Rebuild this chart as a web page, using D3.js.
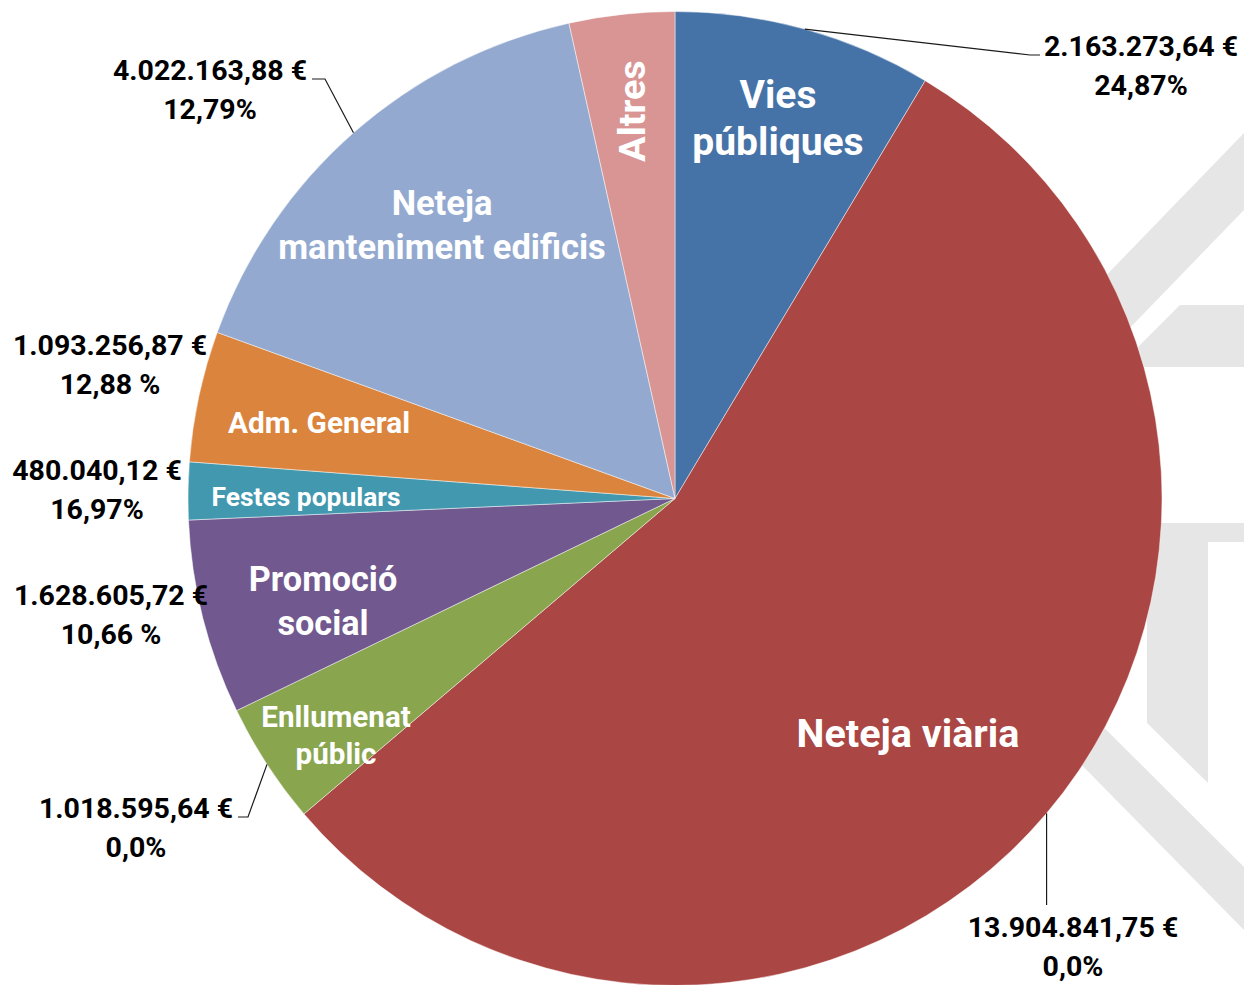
<!DOCTYPE html>
<html>
<head>
<meta charset="utf-8">
<script src="https://cdn.jsdelivr.net/npm/d3@7/dist/d3.min.js"></script>
<style>
  html, body { margin: 0; padding: 0; background: #fff; }
  svg { display: block; }
  text { font-family: Roboto, "Open Sans", sans-serif; font-weight: bold; }
</style>
</head>
<body>
<svg id="chart" width="1244" height="985"></svg>
<script>
// ---- data ----
const categories = ["Vies públiques", "Neteja viària", "Enllumenat públic", "Promoció social",
                    "Festes populars", "Adm. General", "Neteja manteniment edificis", "Altres"];
const values = [2163273.64, 13904841.75, 1018595.64, 1628605.72, 480040.12, 1093256.87, 4022163.88, 880000];
const percentLabels = ["24,87%", "0,0%", "0,0%", "10,66 %", "16,97%", "12,88 %", "12,79%", null];
const sliceLabelLines = [["Vies", "públiques"], ["Neteja viària"], ["Enllumenat", "públic"], ["Promoció", "social"],
                         ["Festes populars"], ["Adm. General"], ["Neteja", "manteniment edificis"], ["Altres"]];
const colors = ["#4572A7", "#AA4643", "#89A54E", "#71588F", "#4198AF", "#DB843D", "#93A9CF", "#D89594"];

// ---- layout (not data) ----
const W = 1244, H = 985, cx = 675, cy = 498.5, R = 487;
const sliceLabelLayout = [
  {x: 778, y: 108, size: 39, lh: 47},
  {x: 908, y: 747, size: 39.5, lh: 46},
  {x: 336, y: 727, size: 29.6, lh: 37},
  {x: 323, y: 591, size: 34.2, lh: 44},
  {x: 306, y: 506, size: 26.4, lh: 30},
  {x: 319, y: 433, size: 29.8, lh: 36},
  {x: 442, y: 215, size: 34.5, lh: 44},
  {x: 645, y: 111, size: 37.8, lh: 40, rotate: -90}
];
const dataLabelLayout = [
  {x: 1141, y: 56, leader: [[1030, 55], [1040, 55]]},
  {x: 1073, y: 937, leader: [[null, 905]]},
  {x: 136, y: 818, leader: [[248, 817], [238, 817]]},
  {x: 111, y: 605, leader: null},
  {x: 97, y: 480, leader: null},
  {x: 110, y: 355, leader: null},
  {x: 210, y: 80, leader: [[325, 79], [312, 79]]},
  null
];
const dataFontSize = 28.5, dataLineH = 38.5;

const locale = d3.formatLocale({decimal: ",", thousands: ".", grouping: [3], currency: ["", " €"]});
const fmt = locale.format("$,.2f");

const svg = d3.select("#chart");

// ---- watermark (background logo, light grey) ----
const wm = svg.append("g").attr("fill", "#e6e6e6");
const wmShapes = [
  [[1244, 133], [1244, 210], [1000, 462], [1000, 385]],
  [[1180, 305], [1244, 305], [1244, 367], [1118, 367]],
  [[1080, 523], [1244, 523], [1244, 542], [1208, 542], [1208, 783], [1147, 723], [1147, 542], [1080, 542]],
  [[1000, 624], [1244, 867], [1244, 930], [1000, 682]]
];
wm.selectAll("path").data(wmShapes).join("path")
  .attr("d", d => d3.line()(d) + "Z");

// ---- pie ----
const pie = d3.pie().sort(null).value(d => d.value);
const arcs = pie(categories.map((c, i) => ({name: c, value: values[i], i})));
const arc = d3.arc().innerRadius(0).outerRadius(R);

const g = svg.append("g").attr("transform", `translate(${cx},${cy})`);
g.selectAll("path.slice").data(arcs).join("path")
  .attr("class", "slice")
  .attr("d", arc)
  .attr("fill", d => colors[d.data.i])
  .attr("stroke", "#ffffff")
  .attr("stroke-opacity", 0.6)
  .attr("stroke-width", 0.8);

// ---- slice labels ----
arcs.forEach(d => {
  const L = sliceLabelLayout[d.data.i];
  const t = svg.append("text")
    .attr("fill", "#ffffff")
    .attr("font-size", L.size)
    .attr("text-anchor", "middle");
  if (L.rotate) {
    t.attr("transform", `translate(${L.x},${L.y}) rotate(${L.rotate})`);
    t.append("tspan").attr("x", 0).attr("y", 0).text(sliceLabelLines[d.data.i][0]);
  } else {
    sliceLabelLines[d.data.i].forEach((line, k) => {
      t.append("tspan").attr("x", L.x).attr("y", L.y + k * L.lh).text(line);
    });
  }
});

// ---- data labels + leaders ----
arcs.forEach(d => {
  const L = dataLabelLayout[d.data.i];
  if (!L) return;
  const mid = (d.startAngle + d.endAngle) / 2;
  const sx = cx + R * Math.sin(mid), sy = cy - R * Math.cos(mid);
  if (L.leader) {
    const pts = [[sx, sy]].concat(L.leader.map(p => [p[0] === null ? sx : p[0], p[1]]));
    svg.append("path")
      .attr("d", d3.line()(pts))
      .attr("fill", "none")
      .attr("stroke", "#1a1a1a")
      .attr("stroke-width", 1.2);
  }
  const t = svg.append("text")
    .attr("fill", "#000000")
    .attr("font-size", dataFontSize)
    .attr("text-anchor", "middle");
  t.append("tspan").attr("x", L.x).attr("y", L.y).text(fmt(d.data.value));
  if (percentLabels[d.data.i]) {
    t.append("tspan").attr("x", L.x).attr("y", L.y + dataLineH).text(percentLabels[d.data.i]);
  }
});
</script>
</body>
</html>
